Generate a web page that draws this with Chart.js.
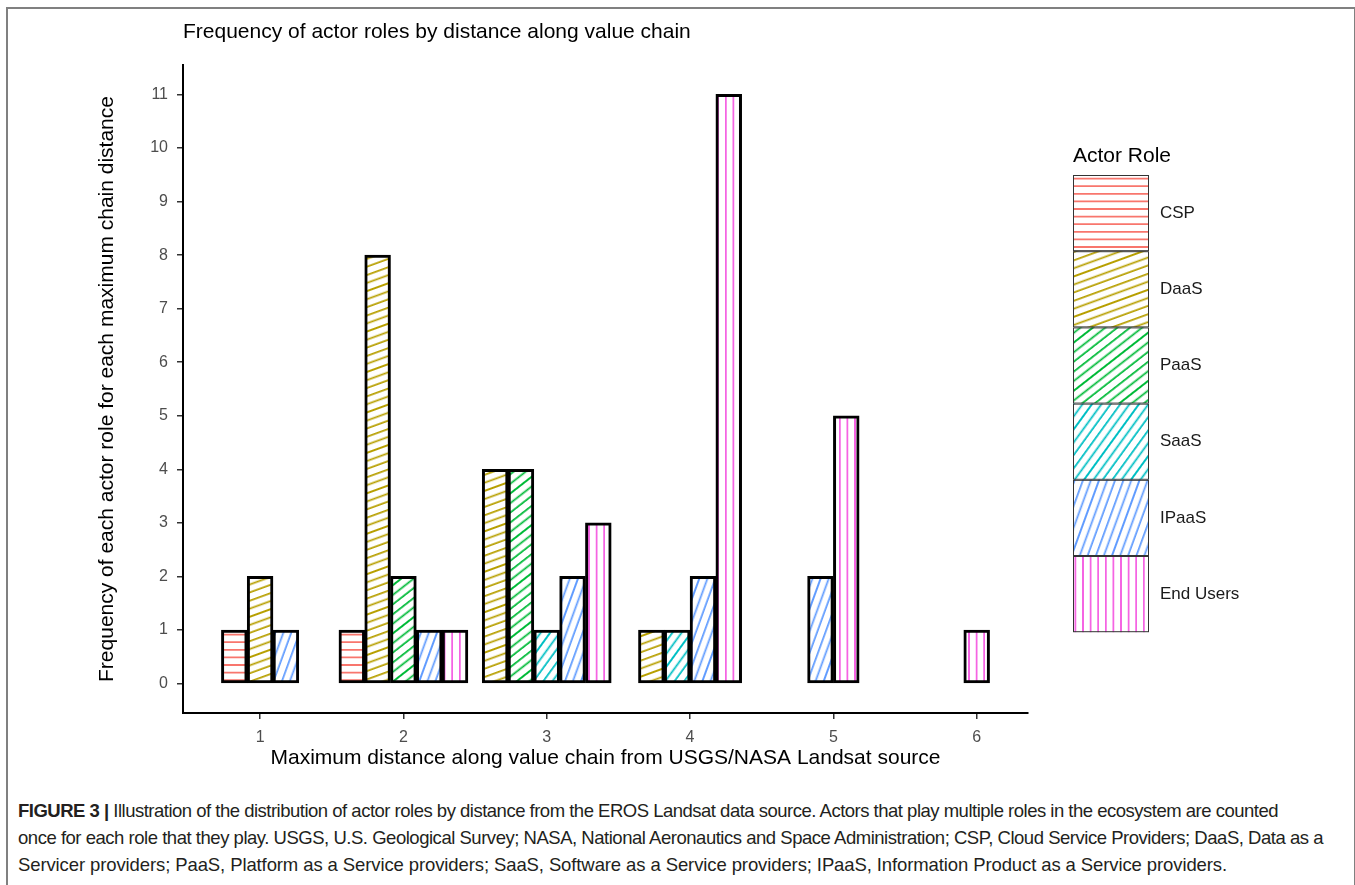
<!DOCTYPE html>
<html>
<head>
<meta charset="utf-8">
<script src="https://cdn.jsdelivr.net/npm/chart.js@4.4.1/dist/chart.umd.min.js"></script>
<style>
  body { margin: 0; background: #fff; width: 1355px; height: 885px; overflow: hidden; position: relative; font-family: "Liberation Sans", Arial, sans-serif; }
  #frame { position: absolute; left: 6px; top: 7px; width: 1346px; height: 900px; border: 2px solid #808080; border-bottom: none; }
  #chart { position: absolute; left: 0; top: 0; }
  #caption { position: absolute; left: 18px; top: 797px; font-size: 18.5px; line-height: 27px; color: #231f20; }
  #caption div { white-space: nowrap; }
</style>
</head>
<body>
<div id="frame"></div>
<canvas id="chart" width="1355" height="780"></canvas>
<div id="caption">
  <div data-w="1260"><span><b>FIGURE 3 |</b> Illustration of the distribution of actor roles by distance from the EROS Landsat data source. Actors that play multiple roles in the ecosystem are counted</span></div>
  <div data-w="1305"><span>once for each role that they play. USGS, U.S. Geological Survey; NASA, National Aeronautics and Space Administration; CSP, Cloud Service Providers; DaaS, Data as a</span></div>
  <div data-w="1209"><span>Servicer providers; PaaS, Platform as a Service providers; SaaS, Software as a Service providers; IPaaS, Information Product as a Service providers.</span></div>
</div>
<script>
document.addEventListener("DOMContentLoaded", function() {
  // Data
  const distances = [1, 2, 3, 4, 5, 6];
  const roles = ['CSP', 'DaaS', 'PaaS', 'SaaS', 'IPaaS', 'End Users'];
  const cspCounts     = [1, 1, 0, 0, 0, 0];
  const daasCounts    = [2, 8, 4, 1, 0, 0];
  const paasCounts    = [0, 2, 4, 0, 0, 0];
  const saasCounts    = [0, 0, 1, 1, 0, 0];
  const ipaasCounts   = [1, 1, 2, 2, 2, 0];
  const endUserCounts = [0, 1, 3, 11, 5, 1];
  const yTicks = [0, 1, 2, 3, 4, 5, 6, 7, 8, 9, 10, 11];

  const counts = [cspCounts, daasCounts, paasCounts, saasCounts, ipaasCounts, endUserCounts];

  // ggplot hue palette + stripe angles
  const roleColors = ['#F8766D', '#B79F00', '#00BA38', '#00BFC4', '#619CFF', '#F564E3'];
  const stripeAngles = [0, 20, 38, 54, 70, 90];

  const FONT = '"Liberation Sans", Arial, sans-serif';
  const barWidth = 0.18; // dodge width per bar, in x units

  function makeStripe(color, angle) {
    const s = 7.6;
    const tile = document.createElement('canvas');
    tile.width = 76; tile.height = 76;
    const t = tile.getContext('2d');
    t.fillStyle = '#fff';
    t.fillRect(0, 0, 76, 76);
    t.strokeStyle = color;
    t.lineWidth = 1.8;
    for (let y = s / 2; y < 76; y += s) {
      t.beginPath();
      t.moveTo(0, y);
      t.lineTo(76, y);
      t.stroke();
    }
    const ctx = document.getElementById('chart').getContext('2d');
    const p = ctx.createPattern(tile, 'repeat');
    p.setTransform(new DOMMatrix().rotateSelf(-angle));
    return p;
  }
  const patterns = roles.map((r, i) => makeStripe(roleColors[i], stripeAngles[i]));

  // position_dodge2 style: only roles present at a distance, centred on it
  const points = roles.map(() => []);
  distances.forEach((d, di) => {
    const present = roles.map((r, ri) => ri).filter(ri => counts[ri][di] > 0);
    present.forEach((ri, k) => {
      points[ri].push({ x: d + (k - (present.length - 1) / 2) * barWidth, y: counts[ri][di] });
    });
  });

  // scale limits with ggplot's 5% expansion
  const xLo = distances[0] - 1.5 * barWidth, xHi = distances[distances.length - 1] + 0.5 * barWidth;
  const xPad = (xHi - xLo) * 0.05;
  const yHi = Math.max(...endUserCounts);
  const yPad = yHi * 0.05;

  const datasets = roles.map((r, i) => ({
    label: r,
    data: points[i],
    backgroundColor: patterns[i],
    borderColor: '#000',
    borderWidth: 3,
    borderSkipped: false,
    grouped: false,
    barPercentage: 1,
    categoryPercentage: 1
  }));

  const extras = {
    id: 'extras',
    afterDraw(chart) {
      const ctx = chart.ctx;
      ctx.save();
      // title
      ctx.fillStyle = '#000';
      ctx.font = '21px ' + FONT;
      ctx.textAlign = 'left';
      ctx.textBaseline = 'alphabetic';
      ctx.fillText('Frequency of actor roles by distance along value chain', chart.chartArea.left, 38);
      // legend
      const lx = 1073, ly = 175, kw = 76, kh = 76.2;
      ctx.fillStyle = '#000';
      ctx.fillText('Actor Role', lx, 162);
      ctx.font = '17px ' + FONT;
      ctx.textBaseline = 'middle';
      roles.forEach((r, i) => {
        const y = ly + i * kh;
        ctx.fillStyle = patterns[i];
        ctx.fillRect(lx, y, kw, kh);
        ctx.strokeStyle = '#333';
        ctx.lineWidth = 1;
        ctx.strokeRect(lx + 0.5, y + 0.5, kw - 1, kh - 1);
        ctx.fillStyle = '#1a1a1a';
        ctx.fillText(r, lx + kw + 11, y + kh / 2);
      });
      ctx.restore();
    }
  };

  new Chart(document.getElementById('chart'), {
    type: 'bar',
    data: { datasets: datasets },
    options: {
      responsive: false,
      animation: false,
      layout: { padding: { left: 0, right: 327, top: 65, bottom: 7 } },
      plugins: { legend: { display: false }, tooltip: { enabled: false } },
      scales: {
        x: {
          type: 'linear',
          offset: false,
          min: xLo - xPad,
          max: xHi + xPad,
          afterBuildTicks: (axis) => { axis.ticks = distances.map(v => ({ value: v })); },
          afterFit: (axis) => { axis.height = 60; },
          border: { display: true, color: '#000', width: 2 },
          grid: { offset: false, drawOnChartArea: false, drawTicks: true, tickLength: 6, color: '#333', lineWidth: 1.5 },
          ticks: { color: '#4d4d4d', font: { family: FONT, size: 16 }, padding: 9, maxRotation: 0 },
          title: {
            display: true,
            text: 'Maximum distance along value chain from USGS/NASA Landsat source',
            color: '#000',
            font: { family: FONT, size: 21 },
            padding: { top: 0, bottom: 2.4 }
          }
        },
        y: {
          min: -yPad,
          max: yHi + yPad,
          afterBuildTicks: (axis) => { axis.ticks = yTicks.map(v => ({ value: v })); },
          afterFit: (axis) => { axis.width = 183; },
          border: { display: true, color: '#000', width: 2 },
          grid: { drawOnChartArea: false, drawTicks: true, tickLength: 6, color: '#333', lineWidth: 1.5 },
          ticks: { color: '#4d4d4d', font: { family: FONT, size: 16 }, padding: 9 },
          title: {
            display: true,
            text: 'Frequency of each actor role for each maximum chain distance',
            color: '#000',
            font: { family: FONT, size: 21 },
            padding: { top: 94.4, bottom: 0 }
          }
        }
      }
    },
    plugins: [extras]
  });

  // stretch / squeeze caption lines to the widths in the figure
  document.querySelectorAll('#caption div').forEach(div => {
    const span = div.querySelector('span');
    const target = parseFloat(div.dataset.w);
    const natural = span.getBoundingClientRect().width;
    const n = span.textContent.length;
    span.style.letterSpacing = ((target - natural) / n) + 'px';
  });
});
</script>
</body>
</html>
